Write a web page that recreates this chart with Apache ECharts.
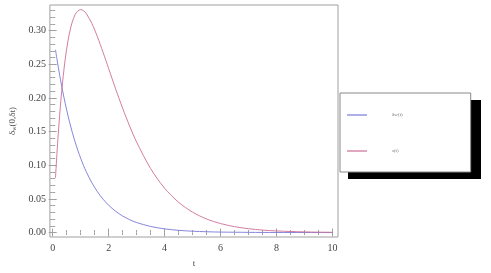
<!DOCTYPE html>
<html>
<head>
<meta charset="utf-8">
<script src="https://cdn.jsdelivr.net/npm/echarts@6/dist/echarts.min.js"></script>
<style>html,body{margin:0;padding:0;background:#fff}#c{width:491px;height:273px}</style>
</head>
<body>
<div id="c"></div>
<script>
var tValues = [0.1,0.15,0.2,0.3,0.4,0.5,0.6,0.7,0.8,0.9,1.0,1.1,1.2,1.4,1.6,1.8,2.0,2.25,2.5,2.75,3.0,3.5,4.0,4.5,5.0,5.5,6.0,6.5,7.0,7.5,8.0,8.5,9.0,9.5,10.0];
var deltaW = [0.2715,0.2582,0.2456,0.2222,0.2011,0.1820,0.1646,0.1490,0.1348,0.1220,0.1104,0.0999,0.0904,0.0740,0.0606,0.0496,0.0406,0.0316,0.0246,0.0192,0.0149,0.0091,0.0055,0.0033,0.0020,0.0012,0.0007,0.0005,0.0003,0.0002,0.0001,0.0001,0.00004,0.00002,0.00001];
var sT = [0.0814,0.1162,0.1474,0.2000,0.2413,0.2729,0.2964,0.3128,0.3235,0.3293,0.3311,0.3296,0.3253,0.3107,0.2907,0.2678,0.2436,0.2134,0.1847,0.1582,0.1344,0.0951,0.0659,0.0450,0.0303,0.0202,0.0134,0.0088,0.0057,0.0037,0.0024,0.0016,0.0010,0.0006,0.0004];
var xMajorTicks = [0,2,4,6,8,10];
var xMinorTicks = [0,0.5,1,1.5,2,2.5,3,3.5,4,4.5,5,5.5,6,6.5,7,7.5,8,8.5,9,9.5,10];
var yMajorTicks = [0,0.05,0.10,0.15,0.20,0.25,0.30];
var yMinorTicks = [0,0.01,0.02,0.03,0.04,0.05,0.06,0.07,0.08,0.09,0.10,0.11,0.12,0.13,0.14,0.15,0.16,0.17,0.18,0.19,0.20,0.21,0.22,0.23,0.24,0.25,0.26,0.27,0.28,0.29,0.30,0.31,0.32,0.33];
var seriesNames = ['δw(t)', 's(t)'];

var XMIN = -0.1, XMAX = 10.2, YMIN = -0.0066, YMAX = 0.338;
var frameColor = '#a0a0a0';
var labelFont = {fontFamily: 'Liberation Serif', fontSize: 10, color: '#444'};

function xAx(pos, ticks, len, labels) {
  return {
    type: 'value', position: pos, min: XMIN, max: XMAX,
    axisLine: {show: false},
    splitLine: {show: false},
    axisTick: {show: true, inside: true, length: len, customValues: ticks, lineStyle: {color: frameColor, width: 1}},
    axisLabel: labels ? Object.assign({show: true, customValues: xMajorTicks, margin: 6,
      formatter: function (v) { return String(Math.round(v)); }}, labelFont) : {show: false}
  };
}
function yAx(pos, ticks, len, labels) {
  return {
    type: 'value', position: pos, min: YMIN, max: YMAX,
    axisLine: {show: false},
    splitLine: {show: false},
    axisTick: {show: true, inside: true, length: len, customValues: ticks, lineStyle: {color: frameColor, width: 1}},
    axisLabel: labels ? Object.assign({show: true, customValues: yMajorTicks, margin: 4,
      formatter: function (v) { return v.toFixed(2); }}, labelFont) : {show: false}
  };
}

var xAxes = [xAx('bottom', xMajorTicks, 4, true), xAx('bottom', xMinorTicks, 2.5, false), xAx('top', xMajorTicks, 4, false), xAx('top', xMinorTicks, 2.5, false)];
xAxes[0].name = 't';
xAxes[0].nameLocation = 'middle';
xAxes[0].nameGap = 22;
xAxes[0].nameTextStyle = {fontFamily: 'Liberation Serif', fontSize: 9, color: '#444'};
var yAxes = [yAx('left', yMajorTicks, 4, true), yAx('left', yMinorTicks, 2.5, false), yAx('right', yMajorTicks, 4, false), yAx('right', yMinorTicks, 2.5, false)];
yAxes[0].name = '{a|δ}{b|w}{a|(0,δt)}';
yAxes[0].nameLocation = 'middle';
yAxes[0].nameRotate = 90;
yAxes[0].nameGap = 28;
yAxes[0].nameTextStyle = {rich: {a: {fontFamily: 'Liberation Serif', fontSize: 9, color: '#555'}, b: {fontFamily: 'Liberation Serif', fontSize: 6, color: '#555', verticalAlign: 'bottom', padding: [4,0,0,0]}}};

function pairs(xs, ys) { return xs.map(function (x, i) { return [x, ys[i]]; }); }

var chart = echarts.init(document.getElementById('c'), null, {renderer: 'canvas'});
chart.setOption({
  animation: false,
  backgroundColor: '#fff',
  grid: {left: 45, right: 153, top: 5, bottom: 33, show: true, borderColor: frameColor, borderWidth: 1, backgroundColor: 'transparent'},
  xAxis: xAxes,
  yAxis: yAxes,
  graphic: [{type: 'rect', left: 348, top: 100, shape: {width: 133, height: 79}, style: {fill: '#000'}, z: 5}],
  legend: {
    orient: 'vertical', left: 340, top: 93,
    data: seriesNames.map(function (n) { return {name: n, icon: 'rect'}; }),
    itemWidth: 20, itemHeight: 1.2, itemGap: 28,
    padding: [18, 68, 17, 7],
    backgroundColor: '#fff', borderColor: '#888', borderWidth: 1,
    textStyle: {fontFamily: 'Liberation Serif', fontSize: 5, color: '#777', padding: [0, 0, 0, 20], lineHeight: 8},
    z: 10
  },
  series: [
    {name: seriesNames[0], type: 'line', data: pairs(tValues, deltaW), smooth: 0.3, showSymbol: false, symbol: 'none',
      lineStyle: {color: '#7878d8', width: 0.9}, itemStyle: {color: '#7878d8'}},
    {name: seriesNames[1], type: 'line', data: pairs(tValues, sT), smooth: 0.3, showSymbol: false, symbol: 'none',
      lineStyle: {color: '#cc6e96', width: 0.9}, itemStyle: {color: '#cc6e96'}}
  ]
});
</script>
</body>
</html>
